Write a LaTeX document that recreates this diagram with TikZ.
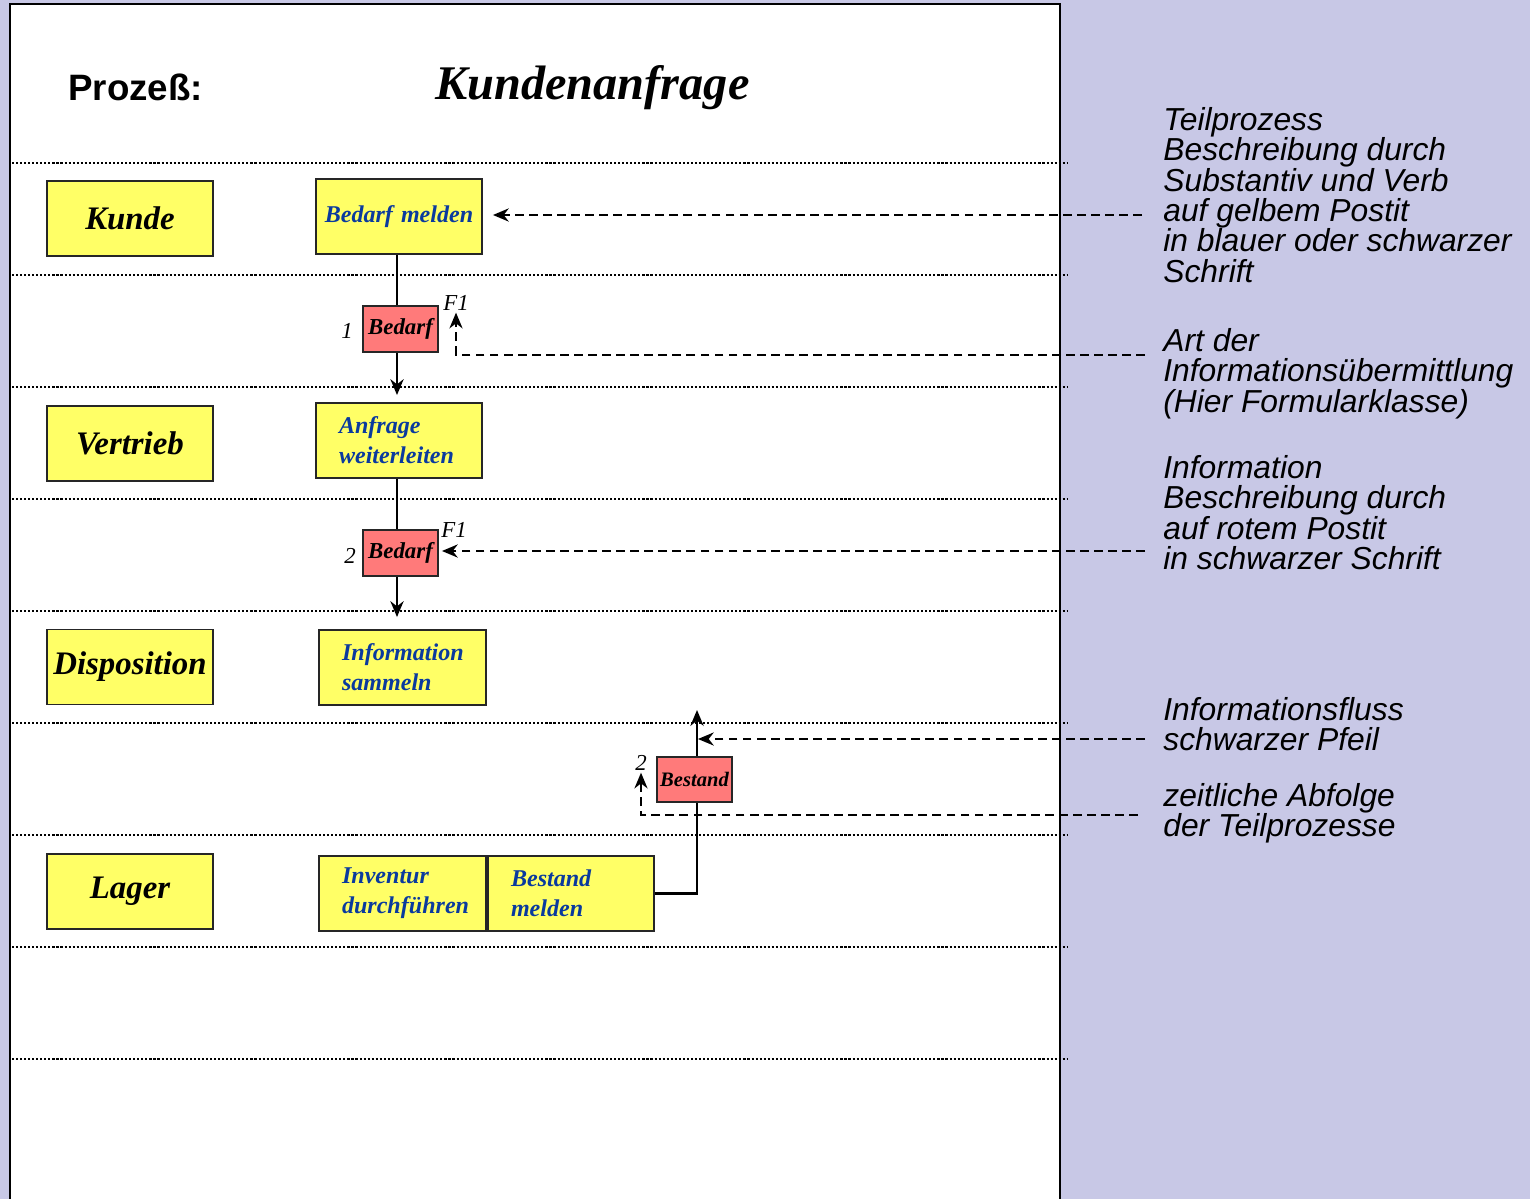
\documentclass[tikz,border=0pt]{standalone}
\usepackage{fontspec}
\setmainfont{Liberation Sans}
\newfontfamily\scriptf{Liberation Serif}
\usetikzlibrary{arrows.meta}
\definecolor{lav}{HTML}{C8C8E6}
\definecolor{postyel}{HTML}{FFFF66}
\definecolor{postred}{HTML}{FF7A7A}
\definecolor{inkblue}{HTML}{0A3A9E}
\tikzset{
  lanebox/.style={draw=black!85,line width=1.1pt,fill=postyel,minimum width=3.32cm,minimum height=1.5cm,inner sep=0pt,
    font=\scriptf\bfseries\itshape\fontsize{18.7}{20}\selectfont},
  procbox/.style={draw=black!85,line width=1.1pt,fill=postyel,minimum height=1.5cm,inner xsep=0.46cm,inner ysep=0pt,
    text width=2.4cm,align=left,text=inkblue,font=\scriptf\bfseries\itshape\fontsize{13.7}{17}\selectfont},
  redbox/.style={draw=black!85,line width=1.1pt,fill=postred,minimum width=1.5cm,minimum height=0.92cm,inner sep=0pt,
    font=\scriptf\bfseries\itshape\fontsize{13}{15}\selectfont},
  smalllbl/.style={inner sep=1pt,font=\scriptf\itshape\fontsize{13}{15}\selectfont},
  dotline/.style={line width=1.3pt,dash pattern=on 1.2pt off 1.1pt},
  flow/.style={line width=1.4pt},
  flowarrow/.style={line width=1.4pt,-{Stealth[length=9pt,width=7.5pt]}},
  annot/.style={line width=1.1pt,dash pattern=on 5pt off 3pt,-{Stealth[length=9pt,width=7.5pt]}},
  note/.style={anchor=north west,inner sep=0pt,align=left,font=\itshape\fontsize{18.1}{17.3}\selectfont}
}
\begin{document}
\begin{tikzpicture}[x=0.02cm,y=-0.02cm]
\useasboundingbox (0,0) rectangle (1530,1199);
\fill[lav] (0,0) rectangle (1530,1199);
\draw[fill=white,line width=1.4pt] (10,4) rectangle (1060,1215);
\foreach \yy in {163,275,387,499,611,723,835,947,1059}
  \draw[dotline] (12,\yy) -- (1067,\yy);

% heading
\node[anchor=base west,inner sep=0pt,font=\bfseries\fontsize{20.9}{24}\selectfont] (proz) at (68,101) {Prozeß:};
\node[anchor=base west,inner sep=0pt,font=\scriptf\bfseries\itshape\fontsize{27.5}{30}\selectfont] (title) at (435,100) {Kundenanfrage};

% lanes
\node[lanebox] (kunde) at (130,218.5) {Kunde};
\node[lanebox] (vertrieb) at (130,443.5) {Vertrieb};
\node[lanebox] (dispo) at (130,667) {Disposition};
\node[lanebox] (lager) at (130,891.5) {Lager};

% process steps
\node[procbox,align=center,text width=3.0cm,inner xsep=0.16cm] (bm) at (399,216.5) {Bedarf melden};
\node[procbox] (aw) at (399,440.5) {Anfrage\\weiterleiten};
\node[procbox,text width=2.42cm] (is) at (402.5,667.5) {Information\\sammeln};
\node[procbox,text width=2.42cm] (id) at (402.5,893.5) {Inventur\\durchführen};
\node[procbox] (bsm) at (571,893.5) {Bestand\\melden};

% information objects
\node[redbox] (b1) at (400.5,329) {Bedarf};
\node[redbox] (b2) at (400.5,553) {Bedarf};
\node[redbox,minimum height=0.9cm,font=\scriptf\bfseries\itshape\fontsize{11.7}{14}\selectfont] (bs) at (694.5,779.5) {Bestand};

\node[smalllbl] (n1) at (347,331) {1};
\node[smalllbl] (f1a) at (456,303) {F1};
\node[smalllbl] (n2) at (350,556) {2};
\node[smalllbl] (f1b) at (454,530) {F1};
\node[smalllbl] (n3) at (641,763) {2};

% flow
\coordinate (cx) at (397,0);
\coordinate (cy) at (697,0);
\coordinate (up) at (697,710);
\draw[flow] (bm.south -| cx) -- (b1.north -| cx);
\draw[flowarrow,shorten >=0.14cm] (b1.south -| cx) -- (aw.north -| cx);
\draw[flow] (aw.south -| cx) -- (b2.north -| cx);
\draw[flowarrow,shorten >=0.24cm] (b2.south -| cx) -- (is.north -| cx);
\draw[flow] (bsm.east) -| (bs.south -| cy);
\draw[flowarrow] (bs.north -| cy) -- (up);

% legend
\node[note] (t1) at (1163,107) {Teilprozess\\Beschreibung durch\\Substantiv und Verb\\auf gelbem Postit\\in blauer oder schwarzer\\Schrift};
\node[note] (t2) at (1163,328) {Art der\\Informationsübermittlung\\(Hier Formularklasse)};
\node[note] (t3) at (1163,455) {Information\\Beschreibung durch\\auf rotem Postit\\in schwarzer Schrift};
\node[note] (t4) at (1163,697) {Informationsfluss\\schwarzer Pfeil};
\node[note] (t5) at (1163,783) {zeitliche Abfolge\\der Teilprozesse};

\coordinate (a1) at (1142,215);
\coordinate (a2) at (1145,355);
\coordinate (a3) at (1145,551);
\coordinate (a4) at (1145,739);
\coordinate (a5) at (1138,815);
\coordinate (hit) at (698,739);
\draw[annot,shorten >=0.2cm] (a1) -- (bm.east |- a1);
\draw[annot] (a2) -| (f1a.south);
\draw[annot,shorten >=0.06cm] (a3) -- (b2.east |- a3);
\draw[annot] (a4) -- (hit);
\draw[annot] (a5) -| (n3.south);
\end{tikzpicture}
\end{document}
